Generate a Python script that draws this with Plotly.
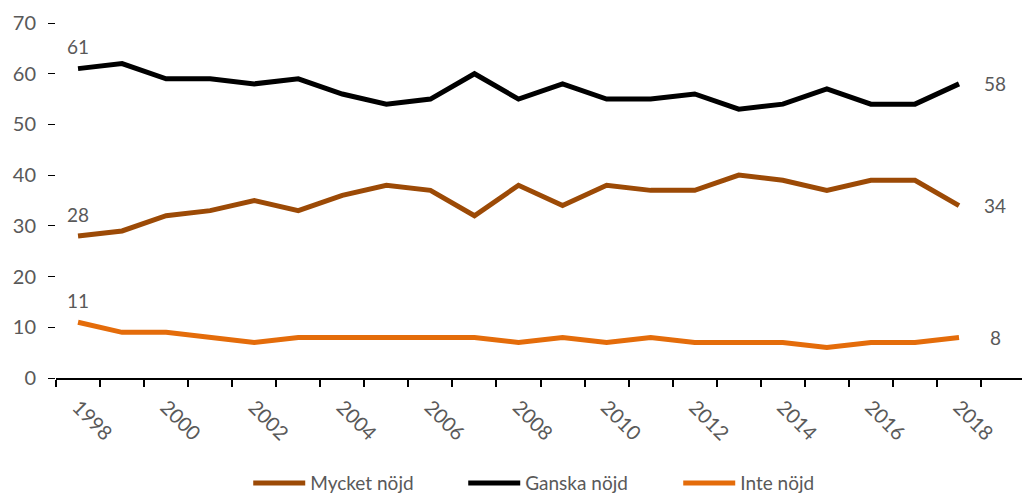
import plotly.graph_objects as go

years = list(range(1998, 2019))
mycket_nojd = [28, 29, 32, 33, 35, 33, 36, 38, 37, 32, 38, 34, 38, 37, 37, 40, 39, 37, 39, 39, 34]
ganska_nojd = [61, 62, 59, 59, 58, 59, 56, 54, 55, 60, 55, 58, 55, 55, 56, 53, 54, 57, 54, 54, 58]
inte_nojd = [11, 9, 9, 8, 7, 8, 8, 8, 8, 8, 7, 8, 7, 8, 7, 7, 7, 6, 7, 7, 8]

series = [
    ("Mycket nöjd", mycket_nojd, "#9C4A06"),
    ("Ganska nöjd", ganska_nojd, "#000000"),
    ("Inte nöjd", inte_nojd, "#E46C0A"),
]

label_font = dict(family="Lato", size=19, color="#595959")

fig = go.Figure()
for name, vals, color in series:
    fig.add_trace(go.Scatter(
        x=years, y=vals, name=name, mode="lines",
        line=dict(color=color, width=5),
        hoverinfo="x+y+name",
    ))
    # value labels on first and last point
    fig.add_annotation(x=years[0], y=vals[0], text=str(vals[0]), showarrow=False,
                       yshift=22, font=label_font)
    fig.add_annotation(x=years[-1], y=vals[-1], text=str(vals[-1]), showarrow=False,
                       xshift=36, font=label_font)

fig.update_layout(
    width=1022, height=493,
    margin=dict(l=56, r=0, t=23, b=115, autoexpand=False),
    plot_bgcolor="white", paper_bgcolor="white",
    font=dict(family="Lato", size=19, color="#595959"),
    showlegend=True,
    legend=dict(orientation="h", x=0.199, xanchor="left", y=-0.296, yanchor="middle",
                font=dict(size=19, color="#595959"), itemwidth=52,
                entrywidth=148, tracegroupgap=0),
    xaxis=dict(
        range=[1997.5, 2019.43],
        tickvals=list(range(1998, 2019, 2)),
        tickangle=45, ticks="", ticklabelstandoff=8, tickfont=dict(size=20),
        showline=True, linecolor="#000000", linewidth=1.5,
        showgrid=False, zeroline=False, automargin=False,
        minor=dict(tickvals=[y - 0.5 for y in years] + [2018.5], ticks="outside",
                   ticklen=7, tickcolor="#000000", tickwidth=1.5, showgrid=False),
    ),
    yaxis=dict(
        range=[0, 70], dtick=10,
        ticks="outside", ticklen=7, tickcolor="#000000", tickwidth=1,
        ticklabelstandoff=8, tickfont=dict(size=20),
        showline=False, showgrid=False, zeroline=False, automargin=False,
    ),
)

# drop the default body margin so the figure sits at the page corner
fig.write_html("out.html", config={"displayModeBar": False},
               post_script="document.body.style.margin='0';")
